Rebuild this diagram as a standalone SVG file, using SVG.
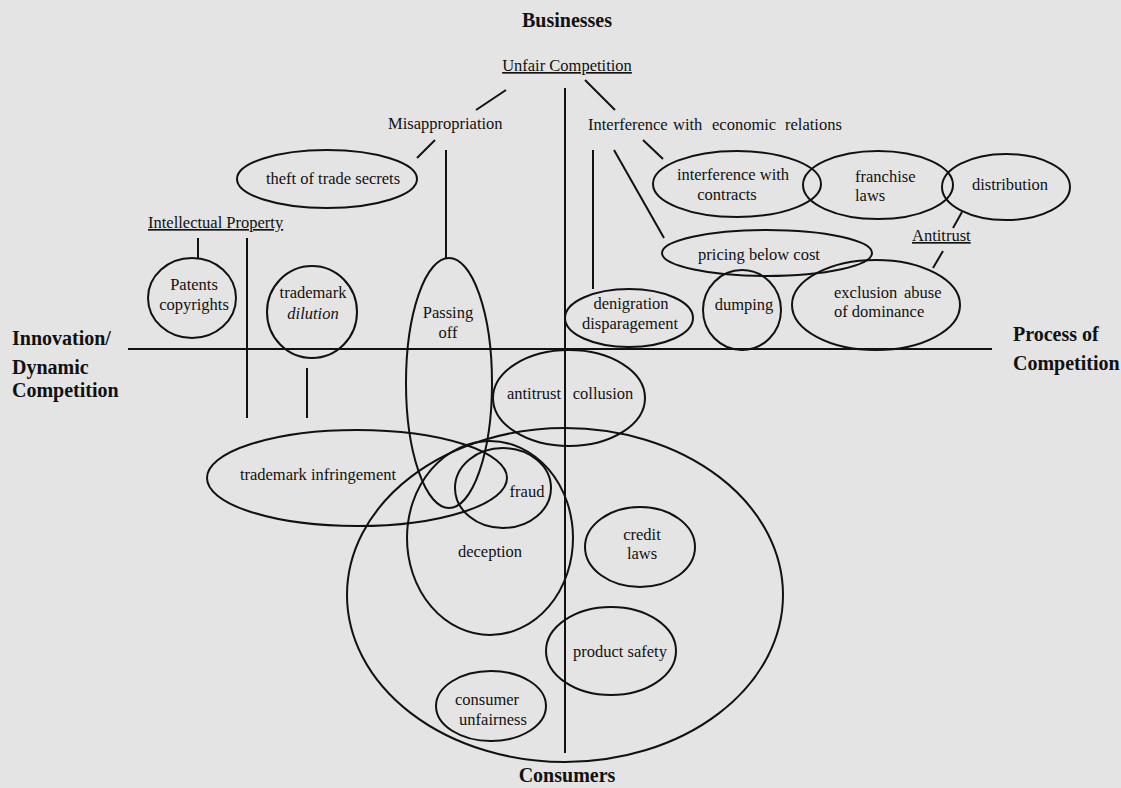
<svg xmlns="http://www.w3.org/2000/svg" width="1121" height="788" viewBox="0 0 1121 788">
<style>
text{font-family:"Liberation Serif","Times New Roman",serif;fill:#111;font-size:16.5px}
.h{font-weight:bold;font-size:20px}
.u{text-decoration:underline}
.c{text-anchor:middle}
ellipse{fill:none;stroke:#111;stroke-width:2}
#connectors line{stroke:#111;stroke-width:2}
</style>
<rect width="1121" height="788" fill="#e4e4e4"/>
<g id="connectors">
<line x1="565" y1="88" x2="565" y2="753"/>
<line x1="128" y1="349" x2="992" y2="349"/>
<line x1="506" y1="90" x2="476" y2="110"/>
<line x1="585" y1="80" x2="615" y2="110"/>
<line x1="435" y1="140" x2="417" y2="158"/>
<line x1="446" y1="150" x2="446" y2="258"/>
<line x1="593" y1="150" x2="593" y2="289"/>
<line x1="614" y1="150" x2="664" y2="238"/>
<line x1="643" y1="140" x2="663" y2="159"/>
<line x1="198" y1="238" x2="198" y2="258"/>
<line x1="247" y1="238" x2="247" y2="418"/>
<line x1="307" y1="368" x2="307" y2="418"/>
<line x1="962" y1="212" x2="953" y2="228"/>
<line x1="943" y1="251" x2="933" y2="268"/>
</g>
<g id="labels">
<text class="h c" x="567" y="27">Businesses</text>
<text class="u c" x="567" y="71">Unfair Competition</text>
<text x="388" y="129">Misappropriation</text>
<text y="130"><tspan x="588">Interference</tspan><tspan x="673">with</tspan><tspan x="712">economic</tspan><tspan x="785">relations</tspan></text>
<text class="u" x="148" y="228">Intellectual Property</text>
<text class="u" x="912" y="241">Antitrust</text>
<text class="h" x="12" y="345">Innovation/</text>
<text class="h" x="12" y="374">Dynamic</text>
<text class="h" x="12" y="397">Competition</text>
<text class="h" x="1013" y="341">Process of</text>
<text class="h" x="1013" y="370">Competition</text>
<text class="h c" x="567" y="782">Consumers</text>
</g>
<g id="theft"><ellipse cx="327" cy="179" rx="90" ry="29"/><text class="c" x="333" y="184">theft of trade secrets</text></g>
<g id="patents"><ellipse cx="192" cy="298" rx="44" ry="40"/><text class="c" x="194" y="290">Patents</text><text class="c" x="194" y="310">copyrights</text></g>
<g id="dilution"><ellipse cx="312" cy="312" rx="45" ry="46"/><text class="c" x="313" y="298">trademark</text><text class="c" x="313" y="319" font-style="italic">dilution</text></g>
<g id="passing"><ellipse cx="449" cy="383" rx="43" ry="125"/><text class="c" x="448" y="318">Passing</text><text class="c" x="448" y="338">off</text></g>
<g id="contracts"><ellipse cx="737" cy="184" rx="84" ry="33"/><text class="c" x="733" y="180">interference with</text><text class="c" x="727" y="200">contracts</text></g>
<g id="franchise"><ellipse cx="878" cy="185" rx="75" ry="34"/><text x="855" y="182">franchise</text><text x="855" y="201">laws</text></g>
<g id="distribution"><ellipse cx="1006" cy="187" rx="64" ry="33"/><text class="c" x="1010" y="190">distribution</text></g>
<g id="pricing"><ellipse cx="767" cy="253" rx="105" ry="23"/><text class="c" x="759" y="260">pricing below cost</text></g>
<g id="dumping"><ellipse cx="742" cy="310" rx="39" ry="40"/><text class="c" x="744" y="310">dumping</text></g>
<g id="exclusion"><ellipse cx="876" cy="305" rx="84" ry="45"/><text y="298"><tspan x="834">exclusion</tspan><tspan x="904">abuse</tspan></text><text x="834" y="317">of dominance</text></g>
<g id="denigration"><ellipse cx="629" cy="318" rx="64" ry="29"/><text class="c" x="631" y="309">denigration</text><text class="c" x="630" y="329">disparagement</text></g>
<g id="collusion"><ellipse cx="569" cy="398" rx="76" ry="48"/><text class="c" x="534" y="399">antitrust</text><text class="c" x="603" y="399">collusion</text></g>
<g id="consumer-law"><ellipse cx="565" cy="595" rx="218" ry="167"/></g>
<g id="infringement"><ellipse cx="357" cy="478" rx="150" ry="48"/><text class="c" x="318" y="480">trademark infringement</text></g>
<g id="fraud"><ellipse cx="503" cy="488" rx="48" ry="40"/><text class="c" x="527" y="497">fraud</text></g>
<g id="deception"><ellipse cx="490" cy="538" rx="83" ry="97"/><text class="c" x="490" y="557">deception</text></g>
<g id="credit"><ellipse cx="640" cy="547" rx="55" ry="40"/><text class="c" x="642" y="540">credit</text><text class="c" x="642" y="559">laws</text></g>
<g id="safety"><ellipse cx="611" cy="651" rx="65" ry="44"/><text class="c" x="620" y="657">product safety</text></g>
<g id="unfairness"><ellipse cx="491" cy="706" rx="55" ry="35"/><text class="c" x="487" y="705">consumer</text><text class="c" x="493" y="725">unfairness</text></g>
</svg>
